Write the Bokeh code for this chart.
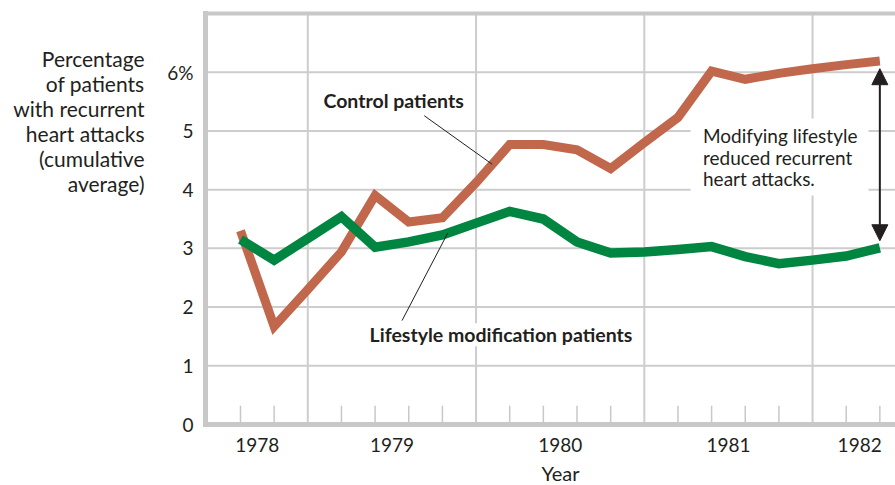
from bokeh.plotting import figure
from bokeh.models import (ColumnDataSource, Range1d, Label, Arrow, NormalHead,
                          BoxAnnotation)
from bokeh.core.properties import value
from bokeh.embed import file_html
from bokeh.resources import INLINE
import numpy as np

# ---- data ----
period = list(range(20))  # successive measurement points
control = [3.3, 1.67, 2.3, 2.94, 3.9, 3.45, 3.52, 4.12, 4.77, 4.77,
           4.68, 4.36, 4.8, 5.23, 6.02, 5.88, 5.98, 6.06, 6.13, 6.19]
lifestyle = [3.15, 2.8, 3.17, 3.54, 3.02, 3.11, 3.23, 3.43, 3.63, 3.5,
             3.11, 2.92, 2.94, 2.98, 3.03, 2.86, 2.74, 2.8, 2.87, 3.01]
year_labels = ["1978", "1979", "1980", "1981", "1982"]
year_pos = [0.5, 4.5, 9.5, 14.5, 18.4]
year_bounds = [2, 7, 12, 17]
y_ticks = [0, 1, 2, 3, 4, 5, 6]
y_tick_labels = ["0", "1", "2", "3", "4", "5", "6%"]
y_top = 7
y_title = ["Percentage", "of patients", "with recurrent", "heart attacks",
           "(cumulative", "average)"]
note_lines = ["Modifying lifestyle", "reduced recurrent", "heart attacks."]

FONT = "Lato"
INK = "#231f20"
GRID = "#cdcdcd"
BORDER = "#c8c8c8"
RED = "#c1674c"
GREEN = "#008640"

W, H = 895, 485
PX, PY = 33.65, 58.71          # pixels per data unit
OX, OY = 240.0, 424.0          # pixel position of (0, 0)
def dx(px):                    # page pixel -> data x
    return (px - OX) / PX
def dy(py):                    # page pixel -> data y
    return (OY - py) / PY

X_START, X_END = dx(0), dx(W)
Y_START, Y_END = dy(H), dy(0)
X0 = dx(205)                   # left edge of the plotting box

p = figure(width=W, height=H, x_range=Range1d(X_START, X_END),
           y_range=Range1d(Y_START, Y_END), x_axis_type=None, y_axis_type=None,
           output_backend="svg", toolbar_location=None, min_border=0)
p.outline_line_color = None
p.grid.visible = False
p.background_fill_color = "white"
p.border_fill_color = "white"

# grid lines
n = len(year_bounds)
p.segment(x0=year_bounds, y0=[0] * n, x1=year_bounds, y1=[y_top] * n,
          line_color=GRID, line_width=2)
gy = y_ticks[1:]
p.segment(x0=[X0] * len(gy), y0=gy, x1=[X_END] * len(gy), y1=gy,
          line_color=GRID, line_width=2)

# small ticks at each measurement point
tick_x = [i for i in period if i not in year_bounds]
p.segment(x0=tick_x, y0=[0] * len(tick_x), x1=tick_x, y1=[0.32] * len(tick_x),
          line_color=BORDER, line_width=1.5)

# frame borders (left, bottom, top)
p.segment(x0=[X0], y0=[0], x1=[X0], y1=[y_top], line_color=BORDER, line_width=5,
          line_cap="square")
p.segment(x0=[X0], y0=[0], x1=[X_END], y1=[0], line_color=BORDER, line_width=5,
          line_cap="square")
p.segment(x0=[X0], y0=[y_top], x1=[X_END], y1=[y_top], line_color=BORDER,
          line_width=4, line_cap="square")

# series
src = ColumnDataSource(dict(x=period, control=control, lifestyle=lifestyle))
p.line("x", "control", source=src, line_color=RED, line_width=9,
       line_join="miter", line_cap="butt")
p.line("x", "lifestyle", source=src, line_color=GREEN, line_width=9.5,
       line_join="miter", line_cap="butt")

# tick labels
p.text(x=[X0] * len(y_ticks), y=y_ticks, text=y_tick_labels, x_offset=-12,
       text_align="right", text_baseline="middle", text_font=value(FONT),
       text_font_size="19px", text_color=INK)
p.text(x=year_pos, y=[dy(437)] * len(year_pos), text=year_labels,
       text_align="center", text_baseline="top", text_font=value(FONT),
       text_font_size="19px", text_color=INK)

# axis titles
p.text(x=[dx(144)] * len(y_title), y=[dy(57.5 + 25 * i) for i in range(len(y_title))],
       text=y_title, text_align="right", text_baseline="middle",
       text_font=value(FONT), text_font_size="21px", text_color=INK)
p.text(x=[dx(560)], y=[dy(472)], text=["Year"], text_align="center",
       text_baseline="middle", text_font=value(FONT), text_font_size="20px",
       text_color=INK)

# series labels with leader lines
cx = 7.48
p.add_layout(Arrow(end=None, x_start=5.46, y_start=5.26, x_end=cx,
                   y_end=float(np.interp(cx, period, control)),
                   line_color=INK, line_width=1))
p.add_layout(Label(x=4.55, y=5.52, text="Control patients", text_align="center",
                   text_baseline="middle", text_font=FONT, text_font_style="bold",
                   text_font_size="19.5px", text_color=INK))

lx = 6.16
p.add_layout(Arrow(end=None, x_start=4.8, y_start=1.77, x_end=lx,
                   y_end=float(np.interp(lx, period, lifestyle)),
                   line_color=INK, line_width=1))
p.add_layout(Label(x=7.74, y=1.53, text="Lifestyle modification patients",
                   text_align="center", text_baseline="middle", text_font=FONT,
                   text_font_style="bold", text_font_size="19.5px", text_color=INK,
                   background_fill_color="white", background_fill_alpha=1.0))

# note with white box
p.add_layout(BoxAnnotation(left=dx(690), right=dx(868), bottom=dy(195), top=dy(118),
                           fill_color="white", fill_alpha=1.0, line_color=None))
for i, t in enumerate(note_lines):
    p.add_layout(Label(x=dx(702.5), y=dy(135.3 + 21.2 * i), text=t, text_align="left",
                       text_baseline="middle", text_font=FONT,
                       text_font_size="19px", text_color=INK))

# double-headed arrow showing the gap
p.add_layout(Arrow(start=NormalHead(size=16, fill_color=INK, line_color=INK),
                   end=NormalHead(size=16, fill_color=INK, line_color=INK),
                   x_start=period[-1], y_start=lifestyle[-1] + 0.12,
                   x_end=period[-1], y_end=control[-1] - 0.13,
                   line_color=INK, line_width=2))

open("out.html", "w").write(file_html(p, INLINE))
